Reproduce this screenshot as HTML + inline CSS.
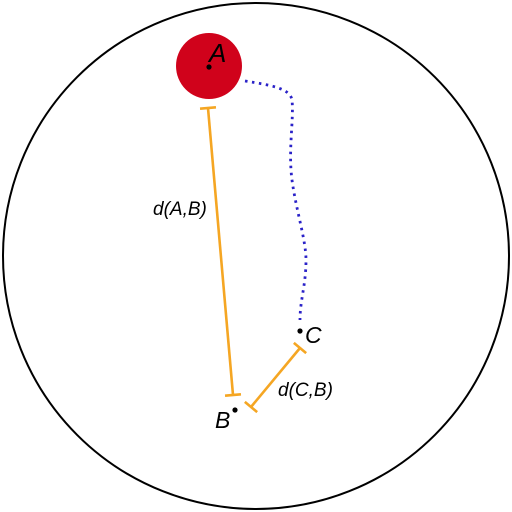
<!DOCTYPE html>
<html><head><meta charset="utf-8"><style>body{margin:0;background:#fff}svg{display:block}text{font-family:"Liberation Sans","DejaVu Sans",sans-serif;font-style:italic}</style></head>
<body>
<svg id="s" width="512" height="512" viewBox="0 0 512 512">
<circle cx="256" cy="256" r="253" fill="none" stroke="#000" stroke-width="2"/>
<circle cx="209" cy="66" r="33" fill="#d0021b"/>
<path d="M245,81 C270,85 290,88 292,100 C294,120 288,150 292,180 C296,210 306,240 306,260 C306,285 300,300 300,320" fill="none" stroke="#2a22c8" stroke-width="2.8" stroke-dasharray="2.5,4.5"/>
<g id="marks"></g>
<text x="209" y="62" style="font-size:26px">A</text>
<text x="305" y="343" style="font-size:23px">C</text>
<text x="215" y="428" style="font-size:23px">B</text>
<text x="153" y="215" style="font-size:19px">d(A,B)</text>
<text x="278" y="396" style="font-size:19px">d(C,B)</text>
</svg>
<script>
const pointNames=['A','B','C'];
const pointX=[209,235,300];
const pointY=[67,410,331];
const segStartX=[208,300];
const segStartY=[108,348];
const segEndX=[233,251];
const segEndY=[395,407];
const g=document.getElementById('marks');
const NS='http://www.w3.org/2000/svg';
for(let i=0;i<segStartX.length;i++){
  const x1=segStartX[i],y1=segStartY[i],x2=segEndX[i],y2=segEndY[i];
  const l=document.createElementNS(NS,'line');
  
  
  l.setAttribute('x1',x1);l.setAttribute('y1',y1);l.setAttribute('x2',x2);l.setAttribute('y2',y2);
  l.setAttribute('stroke','#f5a623');l.setAttribute('stroke-width','2.6');
  g.appendChild(l);
  const dx=x2-x1,dy=y2-y1,len=Math.hypot(dx,dy),px=-dy/len*8,py=dx/len*8;
  [[x1,y1],[x2,y2]].forEach(p=>{
    const c=document.createElementNS(NS,'line');
    
    
    c.setAttribute('x1',p[0]-px);c.setAttribute('y1',p[1]-py);c.setAttribute('x2',p[0]+px);c.setAttribute('y2',p[1]+py);
    c.setAttribute('stroke','#f5a623');c.setAttribute('stroke-width','2.6');
    g.appendChild(c);
  });
}
for(let i=0;i<pointX.length;i++){
  const c=document.createElementNS(NS,'circle');
  
  
  c.setAttribute('cx',pointX[i]);c.setAttribute('cy',pointY[i]);c.setAttribute('r','2.6');c.setAttribute('fill','#000');
  g.appendChild(c);
}
</script>
</body></html>
